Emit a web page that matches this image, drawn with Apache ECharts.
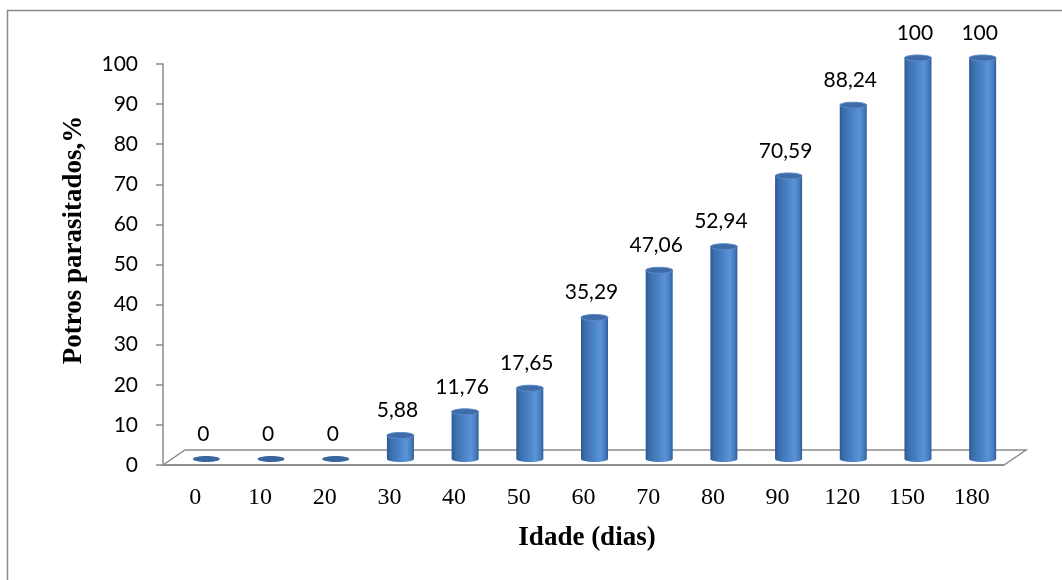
<!DOCTYPE html>
<html>
<head>
<meta charset="utf-8">
<script src="https://cdn.jsdelivr.net/npm/echarts@6/dist/echarts.min.js"></script>
<style>
  html, body { margin: 0; padding: 0; background: #fff; }
  #chart { width: 1062px; height: 580px; }
</style>
</head>
<body>
<div id="chart"></div>
<script>
// Age of the foals (days) and share of parasitized foals (%)
const ages = ['0', '10', '20', '30', '40', '50', '60', '70', '80', '90', '120', '150', '180'];
const parasitized = [0, 0, 0, 5.88, 11.76, 17.65, 35.29, 47.06, 52.94, 70.59, 88.24, 100, 100];
const yMin = 0, yMax = 100, yStep = 10;
const xTitle = 'Idade (dias)';
const yTitle = 'Potros parasitados,%';

// pseudo-3D geometry: floor depth and cylinder placement (mid-depth)
const DEPTH_X = 22, DEPTH_Y = -15;
const BAR_DX = 11, BAR_DY = -6;
const RX = 13.5, RY = 3;
const AXIS_GREY = '#8a8a8a';

function fmt(v) { return String(v).replace('.', ','); }

function bodyGradient() {
  return new echarts.graphic.LinearGradient(0, 0, 1, 0, [
    { offset: 0, color: '#2c5890' },
    { offset: 0.12, color: '#3a6cab' },
    { offset: 0.5, color: '#4d85c9' },
    { offset: 0.72, color: '#5a93d7' },
    { offset: 0.9, color: '#477bbd' },
    { offset: 1, color: '#2e5b96' }
  ]);
}

function renderCylinder(params, api) {
  const idx = api.value(0);
  const v = api.value(1);
  const top = api.coord([idx, v]);
  const base = api.coord([idx, 0]);
  const cx = top[0] + BAR_DX;
  const yt = top[1] + BAR_DY;
  const yb = base[1] + BAR_DY;
  const children = [];
  if (yb - yt > 0.5) {
    children.push({
      type: 'ellipse',
      shape: { cx: cx, cy: yb, rx: RX, ry: RY },
      style: { fill: bodyGradient() }
    });
    children.push({
      type: 'rect',
      shape: { x: cx - RX, y: yt, width: RX * 2, height: yb - yt },
      style: { fill: bodyGradient() }
    });
    children.push({
      type: 'ellipse',
      shape: { cx: cx, cy: yt, rx: RX, ry: RY },
      style: { fill: '#3f6ca8', stroke: '#5a8bc9', lineWidth: 1 }
    });
  } else {
    children.push({
      type: 'ellipse',
      shape: { cx: cx, cy: yb, rx: RX, ry: RY },
      style: { fill: '#3a659e' }
    });
  }
  children.push({
    type: 'text',
    x: cx - 3,
    y: yt - 25,
    style: {
      text: fmt(v),
      font: '21px Lato',
      fill: '#000',
      align: 'center',
      verticalAlign: 'middle'
    }
  });
  return { type: 'group', children: children };
}

function renderFloor(params, api) {
  const cs = params.coordSys;
  const x0 = cs.x, x1 = cs.x + cs.width, y0 = cs.y + cs.height;
  return {
    type: 'polygon',
    shape: {
      points: [
        [x0, y0], [x0 + DEPTH_X, y0 + DEPTH_Y],
        [x1 + DEPTH_X, y0 + DEPTH_Y], [x1, y0]
      ]
    },
    style: { fill: 'none', stroke: AXIS_GREY, lineWidth: 1.5 }
  };
}

const chart = echarts.init(document.getElementById('chart'), null, { renderer: 'canvas' });

chart.setOption({
  animation: false,
  backgroundColor: '#fff',
  grid: { left: 163, top: 64, width: 841, height: 401 },
  xAxis: {
    type: 'category',
    data: ages,
    axisLine: { show: true, lineStyle: { color: AXIS_GREY, width: 1.5 } },
    axisTick: { show: false },
    axisLabel: { fontFamily: 'Liberation Serif', fontSize: 24, color: '#000', margin: 21 },
    splitLine: { show: false }
  },
  yAxis: {
    type: 'value',
    min: yMin,
    max: yMax,
    interval: yStep,
    axisLine: { show: true, lineStyle: { color: AXIS_GREY, width: 1.5 } },
    axisTick: { show: true, length: 7, lineStyle: { color: AXIS_GREY, width: 1.5 } },
    axisLabel: { fontFamily: 'Lato', fontSize: 21, color: '#000', margin: 25 },
    splitLine: { show: false }
  },
  graphic: [
    {
      type: 'rect',
      shape: { x: 7.5, y: 10.5, width: 1200, height: 700 },
      style: { fill: 'none', stroke: AXIS_GREY, lineWidth: 1.5 },
      silent: true
    },
    {
      type: 'text',
      x: 74, y: 240,
      rotation: Math.PI / 2,
      style: {
        text: yTitle,
        font: 'bold 27px "Liberation Serif"',
        fill: '#000',
        align: 'center',
        verticalAlign: 'middle'
      }
    },
    {
      type: 'text',
      x: 587, y: 538,
      style: {
        text: xTitle,
        font: 'bold 27px "Liberation Serif"',
        fill: '#000',
        align: 'center',
        verticalAlign: 'middle'
      }
    }
  ],
  series: [
    {
      type: 'custom',
      name: 'floor',
      renderItem: renderFloor,
      data: [[0, 0]],
      z: 1,
      silent: true
    },
    {
      type: 'custom',
      name: 'Potros parasitados',
      renderItem: renderCylinder,
      data: parasitized.map((v, i) => [i, v]),
      encode: { x: 0, y: 1 },
      z: 3
    }
  ]
});
</script>
</body>
</html>
